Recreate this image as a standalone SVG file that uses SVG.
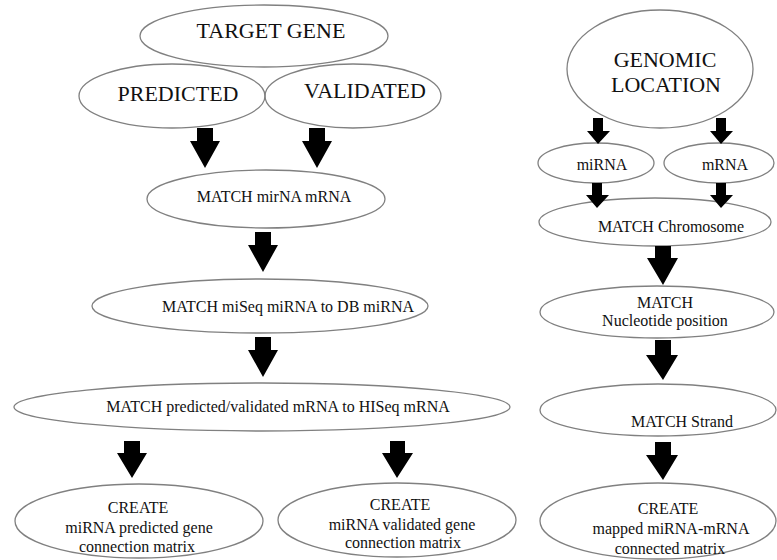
<svg xmlns="http://www.w3.org/2000/svg" width="777" height="560" viewBox="0 0 777 560">
<style>
.n{fill:none;stroke:#808080;stroke-width:1.3}
.a{fill:#000}
</style>
<rect width="777" height="560" fill="#fff"/>
<g font-family="Liberation Serif, Times New Roman, serif" fill="#111" text-anchor="middle">
<g id="target-gene"><ellipse class="n" cx="264" cy="36" rx="124" ry="31"/><text font-family="Liberation Serif, serif" font-size="22" x="271" y="38">TARGET GENE</text></g>
<g id="predicted"><ellipse class="n" cx="172" cy="96" rx="93" ry="32"/><text font-family="Liberation Serif, serif" font-size="22" x="178" y="101">PREDICTED</text></g>
<g id="validated"><ellipse class="n" cx="353" cy="96" rx="88" ry="32"/><text font-family="Liberation Serif, serif" font-size="22" x="365" y="98">VALIDATED</text></g>
<g id="match-mirna-mrna"><ellipse class="n" cx="266" cy="199" rx="119" ry="29"/><text font-family="Liberation Serif, serif" font-size="16" x="274" y="202">MATCH mirNA mRNA</text></g>
<g id="match-miseq"><ellipse class="n" cx="260" cy="306" rx="168" ry="27"/><text font-family="Liberation Serif, serif" font-size="16" x="288" y="312">MATCH miSeq miRNA to DB miRNA</text></g>
<g id="match-predval"><ellipse class="n" cx="262" cy="407" rx="248" ry="24"/><text font-family="Liberation Serif, serif" font-size="16" x="278" y="412">MATCH predicted/validated mRNA to HISeq mRNA</text></g>
<g id="create-predicted"><ellipse class="n" cx="139" cy="521" rx="124" ry="37"/><text font-family="Liberation Serif, serif" font-size="16"><tspan x="138" y="513">CREATE</tspan><tspan x="139" y="533">miRNA predicted gene</tspan><tspan x="137" y="552">connection matrix</tspan></text></g>
<g id="create-validated"><ellipse class="n" cx="397" cy="520" rx="119" ry="37"/><text font-family="Liberation Serif, serif" font-size="16"><tspan x="400" y="510">CREATE</tspan><tspan x="402" y="530">miRNA validated gene</tspan><tspan x="403" y="548">connection matrix</tspan></text></g>
<g id="genomic-location"><ellipse class="n" cx="660" cy="69" rx="93" ry="59"/><text font-family="Liberation Serif, serif" font-size="22"><tspan x="665" y="67">GENOMIC</tspan><tspan x="666" y="92">LOCATION</tspan></text></g>
<g id="mirna"><ellipse class="n" cx="596" cy="163" rx="58" ry="20"/><text font-family="Liberation Serif, serif" font-size="16" x="602" y="170">miRNA</text></g>
<g id="mrna"><ellipse class="n" cx="719" cy="163" rx="55" ry="20"/><text font-family="Liberation Serif, serif" font-size="16" x="725" y="170">mRNA</text></g>
<g id="match-chromosome"><ellipse class="n" cx="655" cy="222" rx="116" ry="24"/><text font-family="Liberation Serif, serif" font-size="16" x="671" y="232">MATCH Chromosome</text></g>
<g id="match-nucleotide"><ellipse class="n" cx="657" cy="312" rx="117" ry="26"/><text font-family="Liberation Serif, serif" font-size="16"><tspan x="665" y="308">MATCH</tspan><tspan x="665" y="326">Nucleotide position</tspan></text></g>
<g id="match-strand"><ellipse class="n" cx="658" cy="410" rx="118" ry="26"/><text font-family="Liberation Serif, serif" font-size="16" x="682" y="427">MATCH Strand</text></g>
<g id="create-mapped"><ellipse class="n" cx="658" cy="521" rx="118" ry="38"/><text font-family="Liberation Serif, serif" font-size="16"><tspan x="668" y="514">CREATE</tspan><tspan x="671" y="534">mapped miRNA-mRNA</tspan><tspan x="670" y="554">connected matrix</tspan></text></g>
</g>
<g id="connectors">
<polygon class="a" points="197,128 213,128 213,141 220,141 205,168 190,141 197,141"/>
<polygon class="a" points="309,128 325,128 325,141 332,141 317,168 302,141 309,141"/>
<polygon class="a" points="255,232 271,232 271,245 278,245 263,272 248,245 255,245"/>
<polygon class="a" points="255,337 271,337 271,350 278,350 263,377 248,350 255,350"/>
<polygon class="a" points="124,441 140,441 140,453 147,453 132,478 117,453 124,453"/>
<polygon class="a" points="390,441 405,441 405,453 413,453 397,478 382,453 390,453"/>
<polygon class="a" points="593,118 603,118 603,131 610,131 598,144 587,131 593,131"/>
<polygon class="a" points="716,118 726,118 726,131 733,131 721,144 710,131 716,131"/>
<polygon class="a" points="592,183 602,183 602,195 609,195 597,208 586,195 592,195"/>
<polygon class="a" points="716,183 726,183 726,195 733,195 721,208 710,195 716,195"/>
<polygon class="a" points="655,246 671,246 671,258 678,258 663,285 647,258 655,258"/>
<polygon class="a" points="655,340 671,340 671,355 678,355 663,380 646,355 655,355"/>
<polygon class="a" points="655,442 671,442 671,455 678,455 663,480 646,455 655,455"/>
</g>
</svg>
